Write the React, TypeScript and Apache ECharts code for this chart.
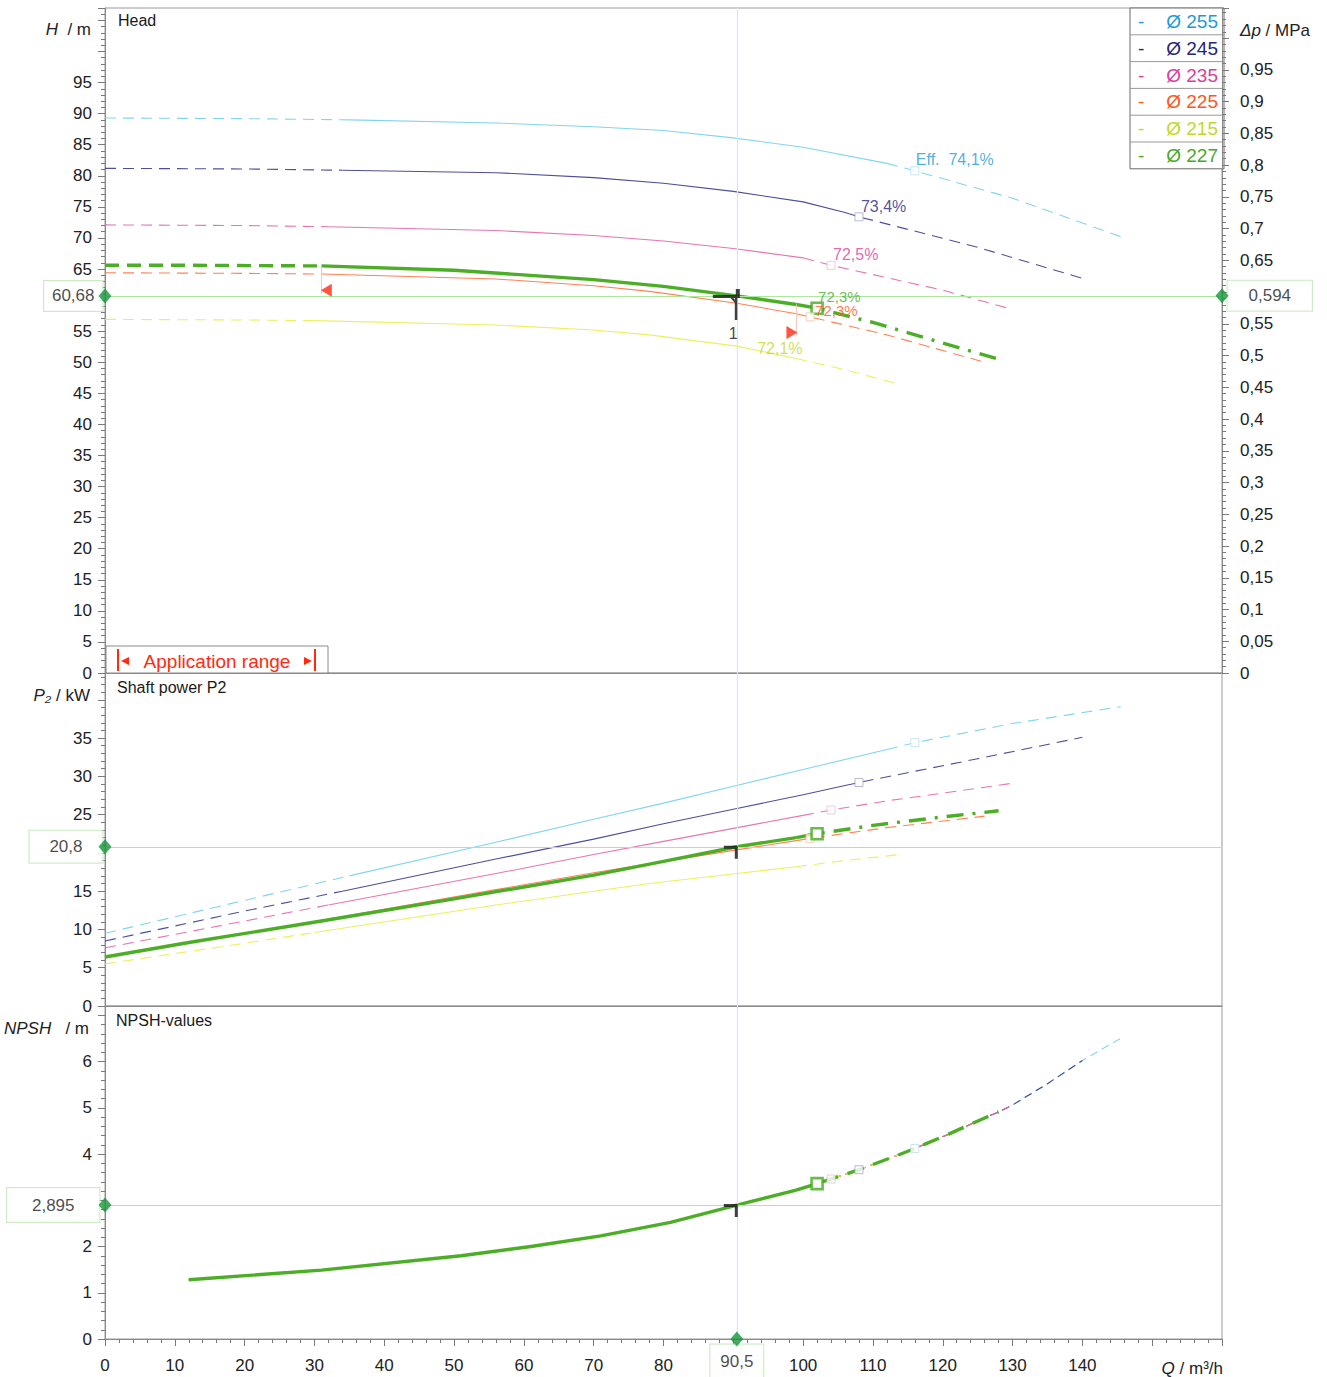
import React, { useEffect, useRef } from 'react';
import * as echarts from 'echarts';

// ---------------- data ----------------
const diameters = ['255', '245', '235', '225', '215', '227'];
const effTexts = ['Eff.  74,1%', '73,4%', '72,5%', '72,3%', '72,1%', '72,3%'];
const effQ = [116, 108, 104, 101, 99, 102];

const q255 = [0, 20, 35, 56, 70, 80, 90, 100, 112, 116, 130, 145.5];
const h255 = [89.3, 89.2, 89.0, 88.5, 87.9, 87.3, 86.1, 84.6, 82.0, 80.8, 76.4, 70.2];
const p255 = [9.5, 13.8, 17.0, 21.4, 24.4, 26.5, 28.7, 30.9, 33.5, 34.4, 36.9, 39.1];

const q245 = [0, 20, 34, 56, 70, 80, 90, 100, 106, 108, 125, 140];
const h245 = [81.2, 81.1, 80.9, 80.5, 79.7, 78.8, 77.5, 75.8, 74.1, 73.4, 68.5, 63.5];
const p245 = [8.5, 12.4, 15.0, 19.2, 21.8, 23.8, 25.7, 27.6, 28.8, 29.2, 32.3, 35.1];

const q235 = [0, 20, 32, 56, 70, 80, 90, 100, 104, 112, 120, 130];
const h235 = [72.1, 72.0, 71.8, 71.2, 70.4, 69.5, 68.3, 66.8, 65.6, 63.6, 61.6, 58.5];
const p235 = [7.6, 11.1, 13.2, 17.3, 19.8, 21.5, 23.2, 24.9, 25.6, 26.8, 27.8, 29.1];

const q225 = [0, 20, 31, 56, 70, 78, 90.5, 99, 101, 112, 126];
const h225 = [64.4, 64.3, 64.2, 63.4, 62.3, 61.4, 59.5, 57.8, 57.3, 54.4, 50.0];
const p225 = [6.3, 9.5, 11.2, 15.2, 17.4, 18.6, 20.4, 21.6, 21.9, 23.3, 24.8];

const q215 = [0, 20, 30, 56, 70, 78, 90.5, 99, 106, 114];
const h215 = [56.9, 56.8, 56.7, 56.0, 55.2, 54.4, 52.6, 50.6, 48.8, 46.4];
const p215 = [5.5, 8.2, 9.6, 13.2, 15.0, 16.0, 17.3, 18.2, 19.0, 19.8];

const q227 = [0, 12, 31, 50, 70, 80, 90.5, 99, 102, 110, 120, 128];
const h227 = [65.6, 65.6, 65.5, 64.8, 63.3, 62.2, 60.68, 59.3, 58.7, 56.4, 53.1, 50.5];
const p227 = [6.4, 8.3, 11.1, 14.0, 17.1, 18.9, 20.8, 22.0, 22.5, 23.6, 24.7, 25.5];

const qNpsh = [12, 31, 51, 61, 71, 81, 90.5, 99, 102, 104, 108, 114, 116, 121, 126, 128, 130, 135, 140, 145.5];
const npsh = [1.28, 1.49, 1.8, 2.0, 2.23, 2.52, 2.895, 3.22, 3.36, 3.46, 3.66, 4.0, 4.12, 4.44, 4.78, 4.91, 5.06, 5.52, 6.02, 6.5];

const solidRanges = [[35, 112], [34, 106], [32, 100], [31, 99], [30, 99], [31, 99]];

const dutyQ = 90.5;
const dutyH = 60.68;
const dutyDp = 0.594;
const dutyP = 20.8;
const dutyN = 2.895;
const appRange = [31, 99];
const appMarks = [[31.7, 61.6], [98.4, 54.8]];
const mPerMPa = 0.009789; // head(m) -> MPa

const headMax = 107;
const powerMax = 43.5;
const npshMax = 7.2;
const qMax = 160;

// ---------------- style ----------------
const FONT = "'Liberation Sans', Arial, Helvetica, sans-serif";
const lineCol: Record<string, string> = {
  '255': '#74d0ec', '245': '#3b3b8e', '235': '#e366ab', '225': '#ff7443', '215': '#eaee4a', '227': '#4cae26',
};
const textCol: Record<string, string> = {
  '255': '#1f9ad6', '245': '#26267c', '235': '#d9409a', '225': '#ff561c', '215': '#c4d82a', '227': '#49a827',
};
const markCol: Record<string, string> = {
  '255': '#b9dfee', '245': '#a7a7c8', '235': '#e2c2d2', '225': '#f3c4a8', '215': '#e8eaa0', '227': '#44aa22',
};
const effOffset: Record<string, number[]> = {
  '255': [1, -11], '245': [2, -10], '235': [2, -11], '225': [5, -6], '215': [-39, -10], '227': [1, -12],
};
const effSize: Record<string, number> = { '255': 16, '245': 16, '235': 16, '225': 15, '215': 16, '227': 15 };

const qArr: Record<string, number[]> = { '255': q255, '245': q245, '235': q235, '225': q225, '215': q215, '227': q227 };
const hArr: Record<string, number[]> = { '255': h255, '245': h245, '235': h235, '225': h225, '215': h215, '227': h227 };
const pArr: Record<string, number[]> = { '255': p255, '245': p245, '235': p235, '225': p225, '215': p215, '227': p227 };

type Part = { from: number; to: number; dash: any };

function pts(q: number[], v: number[], from: number, to: number) {
  const out: number[][] = [];
  q.forEach((x, i) => {
    if (x >= from - 1e-9 && x <= to + 1e-9) out.push([x, v[i]]);
  });
  return out;
}

function lineParts(q: number[], v: number[], parts: Part[], xi: number, yi: number, color: string, width: number, z: number, opacity = 1) {
  return parts.map((p) => ({
    type: 'line',
    xAxisIndex: xi,
    yAxisIndex: yi,
    data: pts(q, v, p.from, p.to),
    showSymbol: false,
    symbol: 'none',
    smooth: false,
    silent: true,
    z,
    lineStyle: { color, width, type: p.dash, opacity, cap: 'butt', join: 'round' },
  }));
}

const THIN_DASH = [11, 7];
const DASH_DOT = [17, 9, 3, 9];

const dutyBig = 'path://M0,6 H27 V9 H0 Z M22,6 H24.5 V31 H22 Z M23,0 H27 V6 H23 Z M15,6 L18,6 L23,12 L23,15 Z';
const dutySmall = 'path://M0,0 H14 V3 H0 Z M11,0 H14 V13 H11 Z';

function valueBox(text: string, ph: number, pv: number) {
  return {
    show: true,
    formatter: text,
    fontSize: 17,
    lineHeight: 18,
    fontFamily: FONT,
    color: '#1a1a1a',
    backgroundColor: '#fff',
    borderColor: '#bfe6b6',
    borderWidth: 1,
    padding: [pv, ph],
  };
}

function buildOption() {
  const series: any[] = [];

  const refLine = (xi: number, yi: number, yVal: number, extra: any[] = []) => ({
    type: 'line',
    xAxisIndex: xi,
    yAxisIndex: yi,
    data: [[dutyQ, yVal]],
    symbol: 'none',
    lineStyle: { width: 0 },
    silent: true,
    z: 1,
    markLine: {
      silent: true,
      symbol: 'none',
      label: { show: false },
      animation: false,
      data: [
        { yAxis: yVal, lineStyle: { color: '#aee89e', width: 1, type: 'solid' } },
        { xAxis: dutyQ, lineStyle: { color: '#d3e9ee', width: 1.2, type: 'solid' } },
        ...extra,
      ],
    },
  });
  series.push(
    refLine(0, 0, dutyH, [
      [{ coord: [appRange[0], 65.5], lineStyle: { color: '#f2cbb8', width: 1, type: 'solid' } }, { coord: [appRange[0], 61.0] }],
      [{ coord: [appRange[1], 59.3], lineStyle: { color: '#f2cbb8', width: 1, type: 'solid' } }, { coord: [appRange[1], 54.3] }],
    ])
  );
  series.push(refLine(1, 2, dutyP));
  series.push(refLine(2, 3, dutyN));

  diameters.forEach((d, i) => {
    const q = qArr[d];
    const isGreen = d === '227';
    const [s0, s1] = solidRanges[i];
    const qEnd = q[q.length - 1];
    const nq = qNpsh.filter((x) => x <= qEnd);
    const nv = npsh.slice(0, nq.length);
    if (!isGreen) {
      const parts: Part[] = [
        { from: 0, to: s0, dash: THIN_DASH },
        { from: s0, to: s1, dash: 'solid' },
        { from: s1, to: 1000, dash: THIN_DASH },
      ];
      series.push(...lineParts(q, hArr[d], parts, 0, 0, lineCol[d], 1.1, 2, 0.9));
      series.push(...lineParts(q, pArr[d], parts, 1, 2, lineCol[d], 1.1, 2, 0.9));
      series.push(
        ...lineParts(nq, nv, [{ from: 0, to: 99, dash: 'solid' }, { from: 99, to: qEnd, dash: [8, 5] }], 2, 3, lineCol[d], 1.1, 2, 0.9)
      );
    } else {
      series.push(
        ...lineParts(q, hArr[d], [
          { from: 0, to: s0, dash: [14, 8] },
          { from: s0, to: s1, dash: 'solid' },
          { from: s1, to: 1000, dash: DASH_DOT },
        ], 0, 0, lineCol[d], 3.4, 3)
      );
      series.push(
        ...lineParts(q, pArr[d], [
          { from: 0, to: s1, dash: 'solid' },
          { from: s1, to: 1000, dash: DASH_DOT },
        ], 1, 2, lineCol[d], 3.4, 3)
      );
      series.push(
        ...lineParts(nq, nv, [
          { from: 0, to: s1, dash: 'solid' },
          { from: s1, to: qEnd, dash: [17, 10] },
        ], 2, 3, lineCol[d], 3.4, 3)
      );
    }

    const mi = q.indexOf(effQ[i]);
    const hidden = d === '215';
    const sym = {
      type: 'scatter',
      symbol: 'rect',
      symbolSize: isGreen ? 11 : 8,
      clip: false,
      silent: true,
      z: isGreen ? 6 : 4,
      itemStyle: hidden
        ? { color: 'transparent', borderWidth: 0 }
        : { color: '#fff', borderColor: markCol[d], borderWidth: isGreen ? 2.6 : 1 },
    };
    series.push({
      ...sym,
      z: isGreen ? 6 : 7,
      xAxisIndex: 0,
      yAxisIndex: 0,
      data: [[q[mi], hArr[d][mi]]],
      label: {
        show: true,
        formatter: effTexts[i],
        position: 'inside',
        align: 'left',
        verticalAlign: 'middle',
        offset: effOffset[d],
        color: textCol[d],
        fontSize: effSize[d],
        fontFamily: FONT,
      },
    });
    if (!hidden) {
      series.push({ ...sym, xAxisIndex: 1, yAxisIndex: 2, data: [[q[mi], pArr[d][mi]]] });
      const ni = qNpsh.indexOf(effQ[i]);
      if (ni >= 0 && d !== '225') series.push({ ...sym, xAxisIndex: 2, yAxisIndex: 3, data: [[qNpsh[ni], npsh[ni]]] });
    }
  });

  series.push({
    type: 'scatter',
    xAxisIndex: 0,
    yAxisIndex: 0,
    clip: false,
    silent: true,
    z: 6,
    symbol: 'triangle',
    symbolSize: [13, 11],
    itemStyle: { color: '#ff2a10' },
    data: [
      { value: appMarks[0], symbolRotate: 90 },
      { value: appMarks[1], symbolRotate: -90 },
    ],
  });

  series.push({
    type: 'scatter',
    xAxisIndex: 0,
    yAxisIndex: 0,
    clip: false,
    silent: true,
    z: 8,
    symbol: dutyBig,
    symbolSize: [27, 31],
    symbolOffset: [-10.5, 8.5],
    itemStyle: { color: '#111' },
    data: [[dutyQ, dutyH]],
    label: { show: true, formatter: '1', position: 'bottom', distance: 6, offset: [7, 0], fontSize: 16, color: '#111', fontFamily: FONT },
  });
  [[1, 2, dutyP], [2, 3, dutyN]].forEach(([xi, yi, v]) =>
    series.push({
      type: 'scatter',
      xAxisIndex: xi,
      yAxisIndex: yi,
      clip: false,
      silent: true,
      z: 8,
      symbol: dutySmall,
      symbolSize: [14, 13],
      symbolOffset: [-6, 5.5],
      itemStyle: { color: '#111' },
      data: [[dutyQ, v]],
    })
  );

  // value boxes (lower z) and diamonds on top of them
  const diamond = (xi: number, yi: number, point: number[], label: any) => {
    const base = {
      type: 'scatter',
      xAxisIndex: xi,
      yAxisIndex: yi,
      clip: false,
      silent: true,
      symbol: 'diamond',
      symbolSize: [13, 15],
      data: [point],
    };
    series.push({ ...base, z: 9, itemStyle: { color: 'transparent' }, label });
    series.push({ ...base, z: 11, itemStyle: { color: '#15963a' } });
  };
  const fmt = (v: number) => String(v).replace('.', ',');
  diamond(0, 0, [0, dutyH], { ...valueBox(fmt(dutyH), 8, 6), position: 'left', distance: -4 });
  diamond(0, 1, [qMax, dutyDp], { ...valueBox(fmt(dutyDp), 21, 6), position: 'right', distance: -1 });
  diamond(1, 2, [0, dutyP], { ...valueBox(fmt(dutyP), 20, 7), position: 'left', distance: -4 });
  diamond(2, 3, [0, dutyN], { ...valueBox(fmt(dutyN), 25, 8), position: 'left', distance: -1 });
  diamond(2, 3, [dutyQ, 0], { ...valueBox(fmt(dutyQ), 10, 8), position: 'bottom', distance: -2 });

  const tickStyle = { lineStyle: { color: '#7a7a7a', width: 1 } };
  const labelBase = { fontSize: 17, color: '#222', fontFamily: FONT };
  const num = (v: number) => String(Math.round(v * 1000) / 1000).replace('.', ',');

  const yCommon = (gridIndex: number, max: number, interval: number, position: string, formatter: any, margin: number) => ({
    type: 'value',
    gridIndex,
    min: 0,
    max,
    interval,
    position,
    axisLine: { show: true, lineStyle: { color: '#8a8a8a' } },
    axisTick: { show: true, length: 7, ...tickStyle },
    minorTick: { show: true, splitNumber: 5, length: 4, ...tickStyle },
    splitLine: { show: false },
    minorSplitLine: { show: false },
    axisLabel: { ...labelBase, margin, formatter },
  });

  const xAxis = [0, 1, 2].map((i) => ({
    type: 'value',
    gridIndex: i,
    min: 0,
    max: qMax,
    interval: 10,
    axisLine: { show: true, lineStyle: { color: '#8a8a8a' } },
    axisTick: { show: i === 2, length: 7, ...tickStyle },
    minorTick: { show: i === 2, splitNumber: 5, length: 4, ...tickStyle },
    splitLine: { show: false },
    minorSplitLine: { show: false },
    axisLabel: {
      show: i === 2,
      ...labelBase,
      margin: 18,
      formatter: (v: number) => (v === 90 || v >= 150 ? '' : num(v)),
    },
  }));

  const yAxis = [
    yCommon(0, headMax, 5, 'left', (v: number) => (v > 96 || v === 60 ? '' : num(v)), 13),
    yCommon(0, headMax * mPerMPa, 0.05, 'right', (v: number) => (v > 0.96 || Math.abs(v - 0.6) < 1e-6 ? '' : num(Math.round(v * 100) / 100)), 18),
    yCommon(1, powerMax, 5, 'left', (v: number) => (v > 36 || v === 20 ? '' : num(v)), 13),
    yCommon(2, npshMax, 1, 'left', (v: number) => (v > 6.5 || v === 3 ? '' : num(v)), 13),
  ];

  const legendX = 1130;
  const legendY = 8;
  const rowH = 26.8;
  const legendChildren: any[] = [
    { type: 'rect', shape: { x: legendX, y: legendY, width: 94, height: rowH * diameters.length }, style: { fill: '#fff', stroke: '#6a6a6a', lineWidth: 1 } },
  ];
  diameters.forEach((d, i) => {
    const cy = legendY + rowH * i + rowH / 2;
    if (i > 0)
      legendChildren.push({ type: 'line', shape: { x1: legendX, y1: legendY + rowH * i, x2: legendX + 94, y2: legendY + rowH * i }, style: { stroke: '#9a9a9a', lineWidth: 1 } });
    legendChildren.push({ type: 'text', x: legendX + 8, y: cy, style: { text: '-', fill: textCol[d], font: `19px ${FONT}`, textVerticalAlign: 'middle' } });
    legendChildren.push({ type: 'text', x: legendX + 88, y: cy, style: { text: 'Ø ' + d, fill: textCol[d], font: `19px ${FONT}`, textAlign: 'right', textVerticalAlign: 'middle' } });
  });

  const italicRich = { i: { fontStyle: 'italic', fontSize: 17, fontFamily: FONT, fill: '#222' }, n: { fontSize: 17, fontFamily: FONT, fill: '#222' } };
  const axisName = (x: number, y: number, text: string, align: string) => ({
    type: 'text',
    x,
    y,
    z: 20,
    style: { text, rich: italicRich, textAlign: align, textVerticalAlign: 'middle', font: `17px ${FONT}`, fill: '#222' },
  });
  const title = (x: number, y: number, text: string) => ({
    type: 'text', x, y, z: 20, style: { text, font: `16px ${FONT}`, fill: '#1a1a1a', textVerticalAlign: 'middle' },
  });

  const graphic: any[] = [
    { type: 'group', z: 30, children: legendChildren },
    title(118, 20, 'Head'),
    title(117, 687, 'Shaft power P2'),
    title(116, 1020, 'NPSH-values'),
    axisName(91, 29, '{i|H}{n|  / m}', 'right'),
    axisName(90, 695, '{i|P₂}{n| / kW}', 'right'),
    axisName(89, 1028, '{i|NPSH}{n|   / m}', 'right'),
    axisName(1240, 30, '{i|Δp}{n| / MPa}', 'left'),
    axisName(1223, 1368, '{i|Q}{n| / m³/h}', 'right'),
    { type: 'rect', z: 20, shape: { x: 106, y: 646, width: 222, height: 27 }, style: { fill: '#fff', stroke: '#8a8a8a', lineWidth: 1 } },
    { type: 'line', z: 21, shape: { x1: 118, y1: 649, x2: 118, y2: 671 }, style: { stroke: '#ff2a10', lineWidth: 2 } },
    { type: 'line', z: 21, shape: { x1: 315, y1: 649, x2: 315, y2: 671 }, style: { stroke: '#ff2a10', lineWidth: 2 } },
    { type: 'polygon', z: 21, shape: { points: [[121, 661], [129, 657], [129, 665]] }, style: { fill: '#ff2a10' } },
    { type: 'polygon', z: 21, shape: { points: [[312, 661], [304, 657], [304, 665]] }, style: { fill: '#ff2a10' } },
    { type: 'text', z: 21, x: 217, y: 661, style: { text: 'Application range', font: `19px ${FONT}`, fill: '#ff2a10', textAlign: 'center', textVerticalAlign: 'middle' } },
  ];

  return {
    animation: false,
    backgroundColor: '#fff',
    textStyle: { fontFamily: FONT },
    grid: [
      { left: 105, top: 8, width: 1117, height: 665, show: true, borderColor: '#9a9a9a', borderWidth: 1, backgroundColor: 'transparent' },
      { left: 105, top: 673, width: 1117, height: 333, show: true, borderColor: '#9a9a9a', borderWidth: 1, backgroundColor: 'transparent' },
      { left: 105, top: 1006, width: 1117, height: 333, show: true, borderColor: '#9a9a9a', borderWidth: 1, backgroundColor: 'transparent' },
    ],
    xAxis,
    yAxis,
    series,
    graphic,
  };
}

export default function App() {
  const ref = useRef<HTMLDivElement>(null);
  useEffect(() => {
    if (!ref.current) return;
    const chart = echarts.init(ref.current, null, { renderer: 'svg' });
    chart.setOption(buildOption() as any);
    return () => chart.dispose();
  }, []);
  return <div ref={ref} style={{ position: 'absolute', left: 0, top: 0, width: 1327, height: 1377, background: '#fff' }} />;
}
